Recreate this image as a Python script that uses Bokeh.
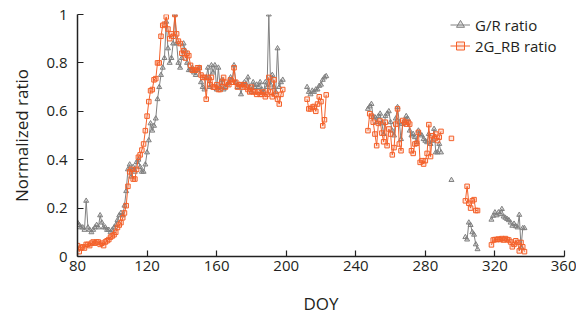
import math
from bokeh.plotting import figure
from bokeh.models import (ColumnDataSource, FixedTicker, CustomJSTickFormatter,
                          Legend, LegendItem, Range1d)
from bokeh.embed import file_html
from bokeh.resources import INLINE

# ---------------- data (DOY segments, daily values) ----------------
seg_starts = [80, 212, 247, 295, 303, 318]

gr_seg1 = [0.14, 0.13, 0.12, 0.12, 0.11, 0.23, 0.12, 0.11, 0.10, 0.11,
           0.12, 0.13, 0.12, 0.17, 0.14, 0.12, 0.12, 0.11, 0.11, 0.10,
           0.11, 0.12, 0.13, 0.15, 0.17, 0.18, 0.17, 0.21, 0.27, 0.36,
           0.38, 0.33, 0.37, 0.35, 0.39, 0.40, 0.37, 0.35, 0.35, 0.38,
           0.43, 0.48, 0.55, 0.52, 0.54, 0.57, 0.65, 0.70, 0.75, 0.78,
           0.82, 0.97, 0.86, 0.80, 0.82, 0.88, 1.00, 0.88, 0.80, 0.78,
           0.82, 0.88, 0.85, 0.80, 0.77, 0.77, 0.78, 0.76, 0.75, 0.77,
           0.78, 0.72, 0.70, 0.69, 0.74, 0.78, 0.70, 0.79, 0.76, 0.79,
           0.69, 0.78, 0.70, 0.73, 0.69, 0.70, 0.71, 0.72, 0.74, 0.73,
           0.79, 0.72, 0.70, 0.71, 0.67, 0.71, 0.72, 0.71, 0.74, 0.70,
           0.68, 0.72, 0.70, 0.71, 0.70, 0.72, 0.69, 0.68, 0.72, 0.70,
           1.00, 0.71, 0.75, 0.70, 0.68, 0.86, 0.70, 0.72, 0.73]
gr_seg2 = [0.70, 0.68, 0.67, 0.685, 0.68, 0.69, 0.69, 0.705, 0.71, 0.73, 0.74, 0.745]
gr_seg3 = [0.61, 0.62, 0.63, 0.575, 0.575, 0.555, 0.58, 0.59, 0.55, 0.506,
           0.58, 0.59, 0.60, 0.555, 0.52, 0.50, 0.57, 0.617, 0.555, 0.485,
           0.547, 0.56, 0.58, 0.568, 0.52, 0.50, 0.506, 0.493, 0.472, 0.52,
           0.506, 0.50, 0.485, 0.478, 0.472, 0.506, 0.465, 0.478, 0.527, 0.43,
           0.43, 0.465, 0.43]
gr_seg4 = [0.316]
gr_seg5 = [0.08, 0.07, 0.14, 0.13, 0.10, 0.09, 0.05, 0.03]
gr_seg6 = [0.152, 0.168, 0.182, 0.17, 0.182, 0.175, 0.196, 0.165, 0.16, 0.155,
           0.150, 0.14, 0.127, 0.135, 0.125, 0.12, 0.172, 0.037, 0.117, 0.117]

rb_seg1 = [0.045, 0.02, 0.035, 0.04, 0.035, 0.05, 0.05, 0.045, 0.055, 0.06,
           0.055, 0.06, 0.06, 0.05, 0.055, 0.045, 0.06, 0.065, 0.07, 0.08,
           0.085, 0.09, 0.10, 0.12, 0.13, 0.14, 0.16, 0.18, 0.21, 0.29,
           0.35, 0.36, 0.32, 0.32, 0.36, 0.41, 0.42, 0.44, 0.465, 0.52,
           0.58, 0.64, 0.685, 0.69, 0.73, 0.735, 0.80, 0.80, 0.91, 0.955,
           0.96, 0.99, 0.94, 0.90, 0.92, 0.91, 1.00, 0.92, 0.89, 0.88,
           0.84, 0.85, 0.82, 0.84, 0.83, 0.79, 0.77, 0.77, 0.77, 0.78,
           0.78, 0.75, 0.74, 0.74, 0.65, 0.74, 0.71, 0.74, 0.70, 0.70,
           0.71, 0.69, 0.69, 0.72, 0.74, 0.70, 0.72, 0.71, 0.73, 0.72,
           0.78, 0.72, 0.70, 0.71, 0.71, 0.70, 0.71, 0.70, 0.69, 0.68,
           0.70, 0.68, 0.68, 0.67, 0.68, 0.67, 0.67, 0.68, 0.66, 0.67,
           0.74, 0.68, 0.66, 0.73, 0.67, 0.65, 0.63, 0.67, 0.69]
rb_seg2 = [0.65, 0.61, 0.61, 0.617, 0.62, 0.60, 0.63, 0.66, 0.64, 0.54, 0.565, 0.668]
rb_seg3 = [0.52, 0.59, 0.58, 0.555, 0.506, 0.458, 0.55, 0.56, 0.51, 0.474,
           0.555, 0.458, 0.527, 0.506, 0.42, 0.45, 0.547, 0.61, 0.465, 0.437,
           0.562, 0.555, 0.547, 0.555, 0.547, 0.437, 0.426, 0.465, 0.468, 0.513,
           0.389, 0.396, 0.382, 0.396, 0.426, 0.545, 0.413, 0.499, 0.486, 0.506,
           0.479, 0.493, 0.517]
rb_seg4 = [0.488]
rb_seg5 = [0.23, 0.29, 0.22, 0.20, 0.23, 0.235, 0.19, 0.19]
rb_seg6 = [0.048, 0.068, 0.07, 0.07, 0.072, 0.07, 0.074, 0.068, 0.074, 0.07,
           0.068, 0.06, 0.04, 0.05, 0.065, 0.058, 0.023, 0.058, 0.04, 0.02]

x_ticks = [80, 120, 160, 200, 240, 280, 320, 360]
y_ticks = [0, 0.2, 0.4, 0.6, 0.8, 1.0]

gr_segs = [gr_seg1, gr_seg2, gr_seg3, gr_seg4, gr_seg5, gr_seg6]
rb_segs = [rb_seg1, rb_seg2, rb_seg3, rb_seg4, rb_seg5, rb_seg6]


def build(starts, segs):
    xs, ys = [], []
    for s, vals in zip(starts, segs):
        if xs:
            xs.append(float("nan"))
            ys.append(float("nan"))
        for i, v in enumerate(vals):
            xs.append(s + i)
            ys.append(v)
    return xs, ys


gx, gy = build(seg_starts, gr_segs)
rx, ry = build(seg_starts, rb_segs)
src_g = ColumnDataSource(dict(x=gx, y=gy))
src_r = ColumnDataSource(dict(x=rx, y=ry))

FONT = "Open Sans"
TXT = "#231f20"
GRAY = "#808080"
ORANGE = "#f4612a"

p = figure(width=576, height=322, x_range=Range1d(80, 360), y_range=Range1d(0, 1),
           output_backend="svg", toolbar_location=None,
           min_border_left=77, min_border_right=12, min_border_top=14, min_border_bottom=66)
p.outline_line_color = None
p.grid.visible = False
p.background_fill_color = "white"
p.border_fill_color = "white"

gl = p.line("x", "y", source=src_g, line_color=GRAY, line_width=1)
gs = p.scatter("x", "y", source=src_g, marker="triangle", size=5,
               line_color=GRAY, fill_color=GRAY, fill_alpha=0.25, line_width=1)
rl = p.line("x", "y", source=src_r, line_color=ORANGE, line_width=1)
rs = p.scatter("x", "y", source=src_r, marker="square", size=4.5,
               line_color=ORANGE, fill_color=ORANGE, fill_alpha=0.15, line_width=1)

for ax in (p.xaxis[0], p.yaxis[0]):
    ax.axis_line_color = "#222222"
    ax.axis_line_width = 1.5
    ax.major_tick_line_color = "#222222"
    ax.major_tick_line_width = 1.2
    ax.major_tick_in = 6
    ax.major_tick_out = 0
    ax.minor_tick_line_color = None
    ax.major_label_text_font = FONT
    ax.major_label_text_font_size = "15px"
    ax.major_label_text_color = TXT
    ax.axis_label_text_font = FONT
    ax.axis_label_text_font_size = "17px"
    ax.axis_label_text_font_style = "normal"
    ax.axis_label_text_color = TXT

p.xaxis.ticker = FixedTicker(ticks=x_ticks)
p.yaxis.ticker = FixedTicker(ticks=y_ticks)
p.yaxis.formatter = CustomJSTickFormatter(code="return String(Math.round(tick*10)/10);")
p.xaxis.axis_label = "DOY"
p.yaxis.axis_label = "Normalized ratio"
p.xaxis.major_label_standoff = 4
p.yaxis.major_label_standoff = 10
p.xaxis.axis_label_standoff = 18
p.yaxis.axis_label_standoff = 10

legend = Legend(items=[LegendItem(label="G/R ratio", renderers=[gl, gs]),
                       LegendItem(label="2G_RB ratio", renderers=[rl, rs])],
                location=(373, 200), orientation="vertical",
                background_fill_alpha=0, border_line_color=None,
                padding=0, margin=0, spacing=0,
                glyph_width=20, glyph_height=21, label_height=21,
                label_standoff=5,
                label_text_font=FONT, label_text_font_size="15px",
                label_text_color=TXT)
p.add_layout(legend)

open("out.html", "w").write(file_html(p, INLINE))
